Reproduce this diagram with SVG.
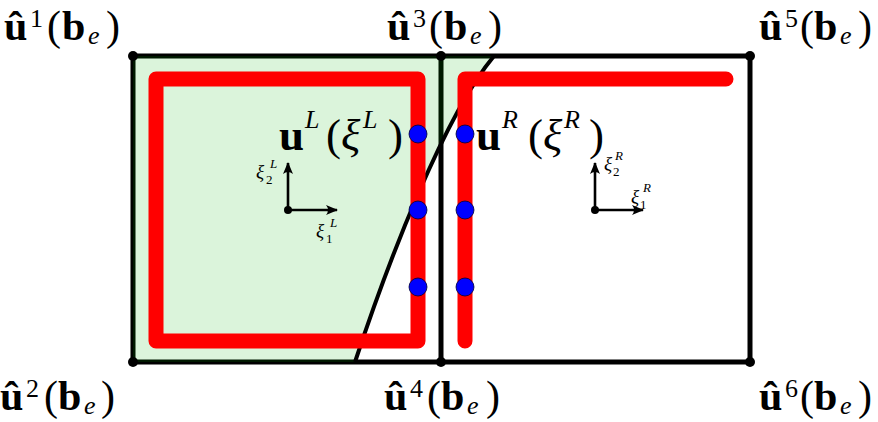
<svg xmlns="http://www.w3.org/2000/svg" width="878" height="422" viewBox="0 0 878 422">
<style>
.edge{stroke:#000;stroke-width:5;fill:none}
.curve{stroke:#000;stroke-width:4;fill:none}
.red{stroke:#ff0000;stroke-width:15;fill:none;stroke-linejoin:round;stroke-linecap:round}
.blue{fill:#0000ff;stroke:#000033;stroke-width:0.8}
.vtx{fill:#000}
.axis{stroke:#000;stroke-width:2.6;fill:none}
text{font-family:'Liberation Serif','Times New Roman',serif;fill:#000}
.lab{font-size:42px}
.big{font-size:45px}
.sm{font-size:19px}
.b{font-weight:bold}
.i{font-style:italic}
.sup{font-size:26px}
.sub{font-size:26px}
.ss{font-size:13px}
</style>
<defs>
<marker id="arr" viewBox="0 0 12 10" refX="11" refY="5" markerWidth="12" markerHeight="10" markerUnits="userSpaceOnUse" orient="auto">
<path d="M0,0 Q4,5 0,10 L12,5 Z" fill="#000"/>
</marker>
</defs>
<g id="elements">
<path class="edge" d="M133,56 H750 V362 H133 Z M441,56 V362"/>
<path id="green" d="M133,56 H494 C444,116 388,262 355,362 H133 Z" fill="rgb(0,180,0)" fill-opacity="0.14"/>
<path class="curve" d="M355,362 C388,262 444,116 494,56"/>
</g>
<g id="traces">
<path class="red" d="M156,79 H418 V341 H156 Z"/>
<path class="red" d="M465,341 V79 H726"/>
</g>
<g id="points">
<circle class="blue" cx="418" cy="134" r="9"/>
<circle class="blue" cx="418" cy="210" r="9"/>
<circle class="blue" cx="418" cy="287" r="9"/>
<circle class="blue" cx="465" cy="134" r="9"/>
<circle class="blue" cx="465" cy="210" r="9"/>
<circle class="blue" cx="465" cy="287" r="9"/>
</g>
<g id="vertices">
<circle class="vtx" cx="133" cy="56" r="5"/>
<circle class="vtx" cx="441" cy="56" r="5"/>
<circle class="vtx" cx="750" cy="56" r="5"/>
<circle class="vtx" cx="133" cy="362" r="5"/>
<circle class="vtx" cx="441" cy="362" r="5"/>
<circle class="vtx" cx="750" cy="362" r="5"/>
</g>
<g id="axesL">
<line class="axis" x1="288" y1="210" x2="288" y2="163" marker-end="url(#arr)"/>
<line class="axis" x1="288" y1="210" x2="337" y2="210" marker-end="url(#arr)"/>
<circle cx="288" cy="210" r="4"/>
<text class="sm"><tspan class="i" x="256" y="178">ξ</tspan><tspan class="ss" x="266" y="184">2</tspan><tspan class="ss i" x="270" y="168">L</tspan></text>
<text class="sm"><tspan class="i" x="316" y="237">ξ</tspan><tspan class="ss" x="326" y="243">1</tspan><tspan class="ss i" x="330" y="227">L</tspan></text>
</g>
<g id="axesR">
<line class="axis" x1="595" y1="210" x2="595" y2="163" marker-end="url(#arr)"/>
<line class="axis" x1="595" y1="210" x2="643" y2="210" marker-end="url(#arr)"/>
<circle cx="595" cy="210" r="4"/>
<text class="sm"><tspan class="i" x="604" y="170">ξ</tspan><tspan class="ss" x="613" y="176">2</tspan><tspan class="ss i" x="615" y="160">R</tspan></text>
<text class="sm"><tspan class="i" x="631" y="203">ξ</tspan><tspan class="ss" x="640" y="209">1</tspan><tspan class="ss i" x="643" y="192">R</tspan></text>
</g>
<g id="labelL">
<text class="big"><tspan class="b" x="279" y="150">u</tspan><tspan class="sup i" x="305" y="128">L</tspan><tspan x="326" y="150">(</tspan><tspan class="i" x="341" y="150">ξ</tspan><tspan class="sup i" x="363" y="128">L</tspan><tspan x="388" y="150">)</tspan></text>
</g>
<g id="labelR">
<text class="big"><tspan class="b" x="476" y="150">u</tspan><tspan class="sup i" x="502" y="128">R</tspan><tspan x="528" y="150">(</tspan><tspan class="i" x="543" y="150">ξ</tspan><tspan class="sup i" x="564" y="128">R</tspan><tspan x="589" y="150">)</tspan></text>
</g>
<g id="v1"><text class="lab"><tspan class="b" x="4" y="40">û</tspan><tspan class="sup" x="30" y="27">1</tspan><tspan x="47" y="40">(</tspan><tspan class="b" x="62" y="40">b</tspan><tspan class="sub i" x="88" y="44">e</tspan><tspan x="106" y="40">)</tspan></text></g>
<g id="v3"><text class="lab"><tspan class="b" x="387" y="40">û</tspan><tspan class="sup" x="413" y="27">3</tspan><tspan x="429" y="40">(</tspan><tspan class="b" x="444" y="40">b</tspan><tspan class="sub i" x="470" y="44">e</tspan><tspan x="488" y="40">)</tspan></text></g>
<g id="v5"><text class="lab"><tspan class="b" x="759" y="40">û</tspan><tspan class="sup" x="785" y="27">5</tspan><tspan x="800" y="40">(</tspan><tspan class="b" x="814" y="40">b</tspan><tspan class="sub i" x="840" y="44">e</tspan><tspan x="858" y="40">)</tspan></text></g>
<g id="v2"><text class="lab"><tspan class="b" x="0" y="410">û</tspan><tspan class="sup" x="26" y="397">2</tspan><tspan x="44" y="410">(</tspan><tspan class="b" x="58" y="410">b</tspan><tspan class="sub i" x="84" y="414">e</tspan><tspan x="101" y="410">)</tspan></text></g>
<g id="v4"><text class="lab"><tspan class="b" x="384" y="410">û</tspan><tspan class="sup" x="410" y="397">4</tspan><tspan x="427" y="410">(</tspan><tspan class="b" x="441" y="410">b</tspan><tspan class="sub i" x="467" y="414">e</tspan><tspan x="486" y="410">)</tspan></text></g>
<g id="v6"><text class="lab"><tspan class="b" x="759" y="410">û</tspan><tspan class="sup" x="785" y="397">6</tspan><tspan x="800" y="410">(</tspan><tspan class="b" x="814" y="410">b</tspan><tspan class="sub i" x="840" y="414">e</tspan><tspan x="858" y="410">)</tspan></text></g>
</svg>
